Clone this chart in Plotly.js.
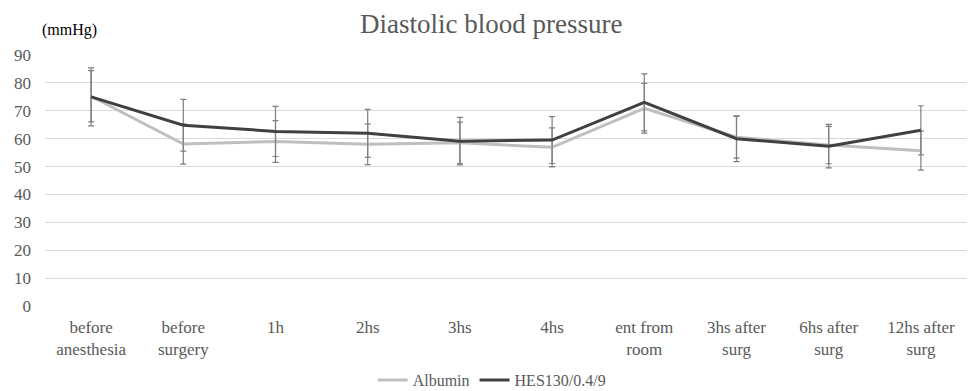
<!DOCTYPE html>
<html>
<head>
<meta charset="utf-8">
<script src="https://cdn.plot.ly/plotly-3.0.1.min.js"></script>
<style>html,body{margin:0;padding:0;background:#fff;}#chart{width:969px;height:391px;}</style>
</head>
<body>
<div id="chart"></div>
<script>
const categories = ["before<br>anesthesia","before<br>surgery","1h","2hs","3hs","4hs","ent from<br>room","3hs after<br>surg","6hs after<br>surg","12hs after<br>surg"];
const albumin = [75.2, 58.1, 59.0, 58.0, 58.5, 56.9, 70.9, 60.5, 57.7, 55.7];
const albuminSD = [9.2, 7.2, 7.5, 7.3, 7.4, 7.0, 8.9, 7.5, 6.7, 7.0];
const hes = [75.0, 64.8, 62.6, 61.9, 59.1, 59.5, 73.0, 60.0, 57.3, 63.0];
const hesSD = [10.4, 9.3, 9.0, 8.6, 8.5, 8.4, 10.2, 8.2, 7.8, 8.8];
const yTicks = [0,10,20,30,40,50,60,70,80,90];

const serif = "Liberation Serif";
const traces = [
  {x: categories, y: albumin, name: "Albumin", type: "scatter", mode: "lines",
   line: {color: "#bfbfbf", width: 3},
   error_y: {type: "data", array: albuminSD, visible: true, color: "#7f7f7f", thickness: 1.2, width: 3}},
  {x: categories, y: hes, name: "HES130/0.4/9", type: "scatter", mode: "lines",
   line: {color: "#404040", width: 3},
   error_y: {type: "data", array: hesSD, visible: true, color: "#7f7f7f", thickness: 1.2, width: 3}}
];
const layout = {
  width: 969, height: 391,
  margin: {l: 45, r: 2, t: 55, b: 85.3},
  paper_bgcolor: "#fff", plot_bgcolor: "#fff",
  font: {family: serif, color: "#595959", size: 17},
  title: {text: "Diastolic blood pressure", font: {family: serif, size: 27, color: "#595959"},
          x: 0.507, xanchor: "center", y: 0.94, yanchor: "middle", yref: "container"},
  xaxis: {type: "category", showgrid: false, zeroline: false, showline: false, automargin: false,
          ticks: "", ticklabelstandoff: 9, tickfont: {family: serif, size: 17, color: "#595959"},
          fixedrange: true},
  yaxis: {range: [0, 90], tickvals: yTicks, ticktext: yTicks.map(String), showgrid: true, automargin: false,
          gridcolor: "#d9d9d9", gridwidth: 1, zeroline: false, showline: false, ticks: "",
          ticklabelstandoff: 13, tickfont: {family: serif, size: 17, color: "#595959"}},
  showlegend: true,
  legend: {orientation: "h", x: 0.485, xanchor: "center", xref: "paper",
           y: 0.028, yanchor: "middle", yref: "container",
           font: {family: serif, size: 16, color: "#595959"}, traceorder: "normal"},
  annotations: [{text: "(mmHg)", xref: "paper", yref: "paper", x: -0.005, y: 1.1, xanchor: "left",
                 yanchor: "middle", showarrow: false, font: {family: serif, size: 16, color: "#000"}}]
};
Plotly.newPlot("chart", traces, layout, {displayModeBar: false, staticPlot: true});
</script>
</body>
</html>
